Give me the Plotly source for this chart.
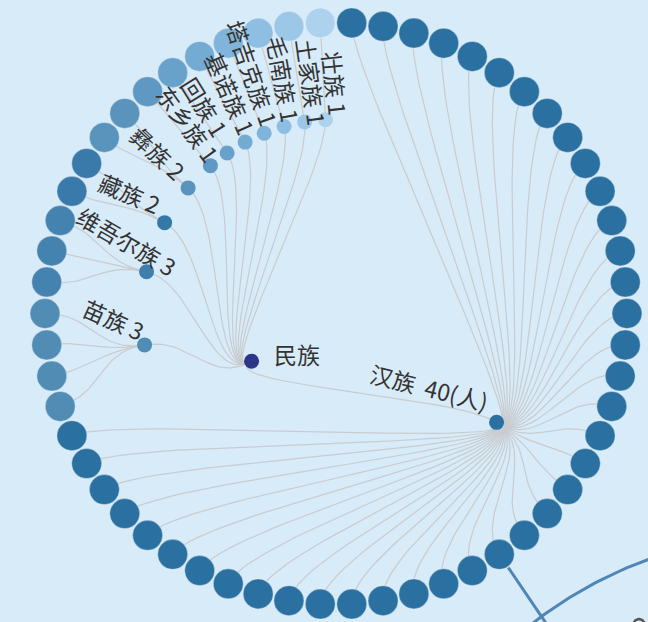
import numpy as np
import plotly.graph_objects as go

# ---------------- data ----------------
groups = ["汉族", "苗族", "维吾尔族", "藏族", "彝族", "东乡族", "回族",
          "基诺族", "塔吉克族", "毛南族", "土家族", "壮族"]
label_counts = [40, 3, 3, 2, 2, 1, 1, 1, 1, 1, 1, 1]      # numbers printed in labels
leaf_counts = [40, 4, 3, 2, 2, 1, 1, 1, 1, 1, 1, 1]       # circles drawn on the ring
root_name = "民族"

# ---------------- style ----------------
colors = {
    "汉族": "#2a70a0", "苗族": "#508cb4", "维吾尔族": "#4483b0", "藏族": "#3a7aaa",
    "彝族": "#5a93bc", "东乡族": "#5f98c3", "回族": "#68a1ca", "基诺族": "#73abd3",
    "塔吉克族": "#80b4da", "毛南族": "#8ebee1", "土家族": "#9dc7e6", "壮族": "#add2ed",
}
node_colors = dict(colors)
node_colors["维吾尔族"] = "#3e7fae"
node_colors["藏族"] = "#3478a8"
root_color = "#2d3589"
# label style: (textangle, xshift px, yshift px)
label_style = {
    "汉族": (14, -68, 35), "苗族": (24, -31, 26), "维吾尔族": (30, -20, 31),
    "藏族": (23, -35, 30), "彝族": (43, -30, 35), "东乡族": (54, -22, 42),
    "回族": (58, -22, 46), "基诺族": (66, -15, 49), "塔吉克族": (71, -12, 60),
    "毛南族": (80, 0, 48), "土家族": (82, 7, 40), "壮族": (84, 10, 37),
}
BG = "#d8ebf8"
EDGE = "#c9cccf"
TEXT = "#333333"
FONT = "Noto Sans CJK SC"
FS = 23
W, H = 648, 622
UNIT = 97.0            # px per depth level
CX, CY = 336.0, 313.5  # ring centre in px

# ---------------- tree layout (radial tidy tree) ----------------
n_leaves = sum(leaf_counts)
step = 2 * np.pi / n_leaves
leaf_theta = (np.arange(n_leaves) + 0.5) * step
group_theta, leaf_group = [], []
k = 0
for g, c in zip(groups, leaf_counts):
    th = leaf_theta[k:k + c]
    group_theta.append((th[0] + th[-1]) / 2)
    leaf_group += [g] * c
    k += c
root_theta = (group_theta[0] + group_theta[-1]) / 2
R_ROOT, R_GROUP, R_LEAF = 1.0, 2.0, 3.0


def pol(theta, r):
    return r * np.sin(theta), r * np.cos(theta)


def link(t0, r0, t1, r1, n=40):
    rm = (r0 + r1) / 2
    p = [np.array(pol(t0, r0)), np.array(pol(t0, rm)),
         np.array(pol(t1, rm)), np.array(pol(t1, r1))]
    t = np.linspace(0, 1, n)[:, None]
    b = ((1 - t) ** 3) * p[0] + 3 * ((1 - t) ** 2) * t * p[1] + 3 * (1 - t) * t ** 2 * p[2] + t ** 3 * p[3]
    return b[:, 0], b[:, 1]


ex, ey = [], []
for gi, gt in enumerate(group_theta):
    x, y = link(root_theta, R_ROOT, gt, R_GROUP)
    ex += list(x) + [None]
    ey += list(y) + [None]
k = 0
for gi, c in enumerate(leaf_counts):
    for j in range(c):
        x, y = link(group_theta[gi], R_GROUP, leaf_theta[k], R_LEAF)
        ex += list(x) + [None]
        ey += list(y) + [None]
        k += 1

fig = go.Figure()


def px2d(px, py):
    return (px - CX) / UNIT, (CY - py) / UNIT


# decoration: bottom-right fragments of the surrounding infographic
dk = 23
dth = leaf_theta[dk]
d0 = pol(dth, R_LEAF + 16 / UNIT)
d1 = pol(dth, R_LEAF + 1.4)
fig.add_trace(go.Scatter(x=[d0[0], d1[0]], y=[d0[1], d1[1]], mode="lines",
                         line=dict(color="#4f86b5", width=3), hoverinfo="skip"))
P0, P1, P2 = np.array([524, 630]), np.array([583, 582]), np.array([655, 557])
tt = np.linspace(0, 1, 40)[:, None]
qb = (1 - tt) ** 2 * P0 + 2 * (1 - tt) * tt * P1 + tt ** 2 * P2
qx, qy = px2d(qb[:, 0], qb[:, 1])
fig.add_trace(go.Scatter(x=qx, y=qy, mode="lines",
                         line=dict(color="#4f86b5", width=3), hoverinfo="skip"))
# small grey glyph fragment peeking in at the bottom-right edge
ang = np.linspace(0, np.pi, 30)
gxp, gyp = px2d(639 + 7 * np.cos(ang), 629 - 10 * np.sin(ang))
fig.add_trace(go.Scatter(x=gxp, y=gyp, mode="lines",
                         line=dict(color="#555555", width=2.5), hoverinfo="skip"))

# links
fig.add_trace(go.Scatter(x=ex, y=ey, mode="lines", line=dict(color=EDGE, width=1.2),
                         hoverinfo="skip"))

# leaves
lx, ly = pol(leaf_theta, R_LEAF)
fig.add_trace(go.Scatter(x=lx, y=ly, mode="markers",
                         marker=dict(size=30, color=[colors[g] for g in leaf_group],
                                     line=dict(color="rgba(255,255,255,0.35)", width=1)),
                         hoverinfo="skip"))

# group nodes
gx, gy = pol(np.array(group_theta), R_GROUP)
fig.add_trace(go.Scatter(x=gx, y=gy, mode="markers",
                         marker=dict(size=15, color=[node_colors[g] for g in groups],
                                     line=dict(width=0)),
                         hoverinfo="skip"))

# root
rx, ry = pol(root_theta, R_ROOT)
fig.add_trace(go.Scatter(x=[rx], y=[ry], mode="markers",
                         marker=dict(size=15, color=root_color, line=dict(width=0)),
                         hoverinfo="skip"))

ann = [dict(x=rx, y=ry, text=root_name, showarrow=False, xshift=45, yshift=7,
            font=dict(size=FS, color=TEXT, family=FONT), xanchor="center", yanchor="middle")]
for g, c, x, y in zip(groups, label_counts, gx, gy):
    a, xs, ys = label_style[g]
    txt = f"{g}  {c}(人)" if g == "汉族" else f"{g} {c}"
    ann.append(dict(x=x, y=y, text=txt, showarrow=False, xshift=xs, yshift=ys,
                    textangle=a, xanchor="center", yanchor="middle",
                    font=dict(size=FS, color=TEXT, family=FONT)))

fig.update_layout(
    width=W, height=H, margin=dict(l=0, r=0, t=0, b=0),
    paper_bgcolor=BG, plot_bgcolor=BG, showlegend=False,
    xaxis=dict(range=[(0 - CX) / UNIT, (W - CX) / UNIT], visible=False, fixedrange=True),
    yaxis=dict(range=[(CY - H) / UNIT, CY / UNIT], visible=False, fixedrange=True),
    annotations=ann,
    font=dict(family=FONT),
)

fig.write_html("out.html", config={"displayModeBar": False},
               post_script="document.body.style.margin='0';document.body.style.overflow='hidden';")
